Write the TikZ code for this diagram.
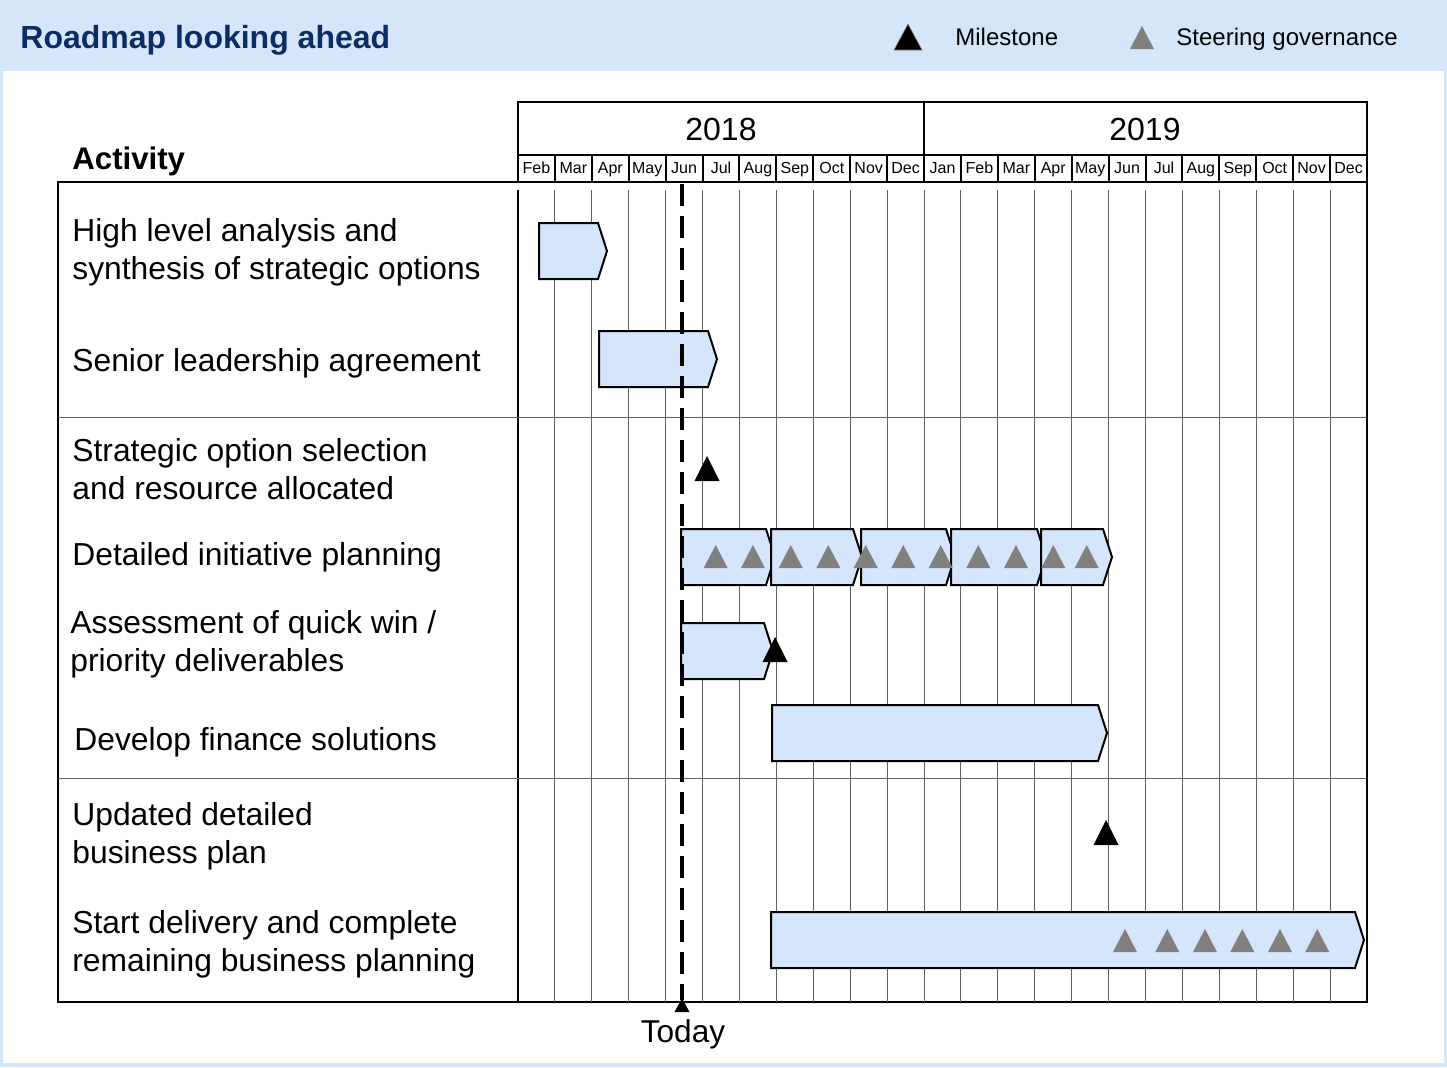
\documentclass[tikz,border=0pt]{standalone}
\usepackage{fontspec}
\setmainfont{Liberation Sans}
\definecolor{bgblue}{RGB}{214,230,250}
\definecolor{barblue}{RGB}{213,229,252}
\definecolor{navy}{RGB}{12,45,100}
\definecolor{govgray}{RGB}{128,128,128}
\definecolor{gridgray}{RGB}{95,95,95}
\begin{document}
\begin{tikzpicture}[x=0.5pt,y=-0.5pt,
  lbl/.style={anchor=base west,inner sep=0pt,font=\fontsize{15.9}{19}\selectfont},
  monthlbl/.style={anchor=base,inner sep=0pt,font=\fontsize{8}{9.6}\selectfont},
  yearlbl/.style={anchor=base,inner sep=0pt,font=\fontsize{16}{19}\selectfont},
  legendlbl/.style={anchor=base west,inner sep=0pt,font=\fontsize{12}{14}\selectfont},
  gridline/.style={draw=gridgray,line width=0.5pt},
  sepline/.style={draw=gridgray,line width=0.5pt},
  frameline/.style={draw=black,line width=1pt},
  bar/.style={draw=black,fill=barblue,line width=1pt,line join=miter},
  govtri/.style={fill=govgray,draw=none},
  miletri/.style={fill=black,draw=none},
  todayline/.style={draw=black,line width=1.6pt,dash pattern=on 11pt off 5pt}
]
\useasboundingbox (0,0) rectangle (1447,1067);
% background
\fill[bgblue] (0,0) rectangle (1447,1067);
\fill[white] (3,71) rectangle (1444,1063);

% header
\node[anchor=base west,inner sep=0pt,text=navy,font=\fontsize{16}{19}\selectfont\bfseries] (title) at (20,48) {Roadmap looking ahead};
\fill[miletri,draw=gray,line width=0.3pt] (894,50) -- (922,50) -- (908,24) -- cycle;
\node[legendlbl] (legm) at (955,45) {Milestone};
\fill[govtri] (1130,49) -- (1154,49) -- (1142,26) -- cycle;
\node[legendlbl] (legg) at (1176,45) {Steering governance};

% Activity header
\node[anchor=base west,inner sep=0pt,font=\fontsize{15.6}{18.8}\selectfont\bfseries] (act) at (72,169) {Activity};

% year/month header
\draw[frameline] (518,182) -- (518,102) -- (1367,102) -- (1367,1002) -- (58,1002) -- (58,182) -- (1367,182);
\draw[frameline] (518,155) -- (1367,155);
\draw[frameline] (924,102) -- (924,155);
\foreach \i in {1,...,22} {
  \draw[frameline] ({518+\i*36.913},155) -- ({518+\i*36.913},182);
}
\node[yearlbl] (y2018) at (721,140) {2018};
\node[yearlbl] (y2019) at (1145,140) {2019};
\foreach \m [count=\i from 0] in {Feb,Mar,Apr,May,Jun,Jul,Aug,Sep,Oct,Nov,Dec,Jan,Feb,Mar,Apr,May,Jun,Jul,Aug,Sep,Oct,Nov,Dec} {
  \node[monthlbl] (m\i) at ({518+(\i+0.5)*36.913},173.5) {\m};
}

% body grid
\draw[frameline] (518,190) -- (518,1002);
\foreach \i in {1,...,22} {
  \draw[gridline] ({518+\i*36.913},190) -- ({518+\i*36.913},1002);
}
\draw[sepline] (58,417) -- (1367,417);
\draw[sepline] (58,778) -- (1367,778);

% activity labels
\node[lbl] (a1a) at (72,241.5) {High level analysis and};
\node[lbl] (a1b) at (72,279.5) {synthesis of strategic options};
\node[lbl] (a2)  at (72,371.5) {Senior leadership agreement};
\node[lbl] (a3a) at (72,461.5) {Strategic option selection};
\node[lbl] (a3b) at (72,499)   {and resource allocated};
\node[lbl] (a4)  at (72,565.5) {Detailed initiative planning};
\node[lbl] (a5a) at (70,633.5) {Assessment of quick win /};
\node[lbl] (a5b) at (70,671.5) {priority deliverables};
\node[lbl] (a6)  at (74,750)   {Develop finance solutions};
\node[lbl] (a7a) at (72,825)   {Updated detailed};
\node[lbl] (a7b) at (72,863)   {business plan};
\node[lbl] (a8a) at (72,933.5) {Start delivery and complete};
\node[lbl] (a8b) at (72,971.5) {remaining business planning};

% bars (chevrons): x1, tip x, top y
\newcommand{\chevbar}[3]{%
  \draw[bar] (#1,#3) -- ({#2-9},#3) -- (#2,{#3+28}) -- ({#2-9},{#3+56}) -- (#1,{#3+56}) -- cycle;}
\chevbar{539}{607}{223}
\chevbar{599}{717}{331}
\chevbar{681}{775}{529}
\chevbar{771}{862}{529}
\chevbar{861}{955}{529}
\chevbar{951}{1046}{529}
\chevbar{1041}{1112}{529}
\chevbar{681}{773}{623}
\chevbar{772}{1107}{705}
\chevbar{771}{1364}{912}

% governance triangles
\newcommand{\govtriangle}[2]{\fill[govtri] ({#1-12},#2) -- ({#1+12},#2) -- (#1,{#2-23}) -- cycle;}
\foreach \cx in {715.7,753,790.7,828.3,865.7,903.3,940.7,978.3,1016,1053.3,1086.7} {
  \govtriangle{\cx}{568}
}
\foreach \cx in {1125,1167.3,1205,1242.3,1280,1317.3} {
  \govtriangle{\cx}{952}
}

% milestones
\newcommand{\miletriangle}[2]{\fill[miletri] ({#1-12.5},#2) -- ({#1+12.5},#2) -- (#1,{#2-25}) -- cycle;}
\miletriangle{707}{481}
\miletriangle{775}{662}
\miletriangle{1106}{845}

% today
\coordinate (ttop) at (682,184);
\coordinate (tbot) at (682,1000);
\draw[todayline] (ttop) -- (tbot);
\fill[black] (674.5,1012) -- (689.5,1012) -- (682,998) -- cycle;
\node[anchor=base,inner sep=0pt,font=\fontsize{15.8}{19}\selectfont] (today) at (683,1042.5) {Today};
\end{tikzpicture}
\end{document}
